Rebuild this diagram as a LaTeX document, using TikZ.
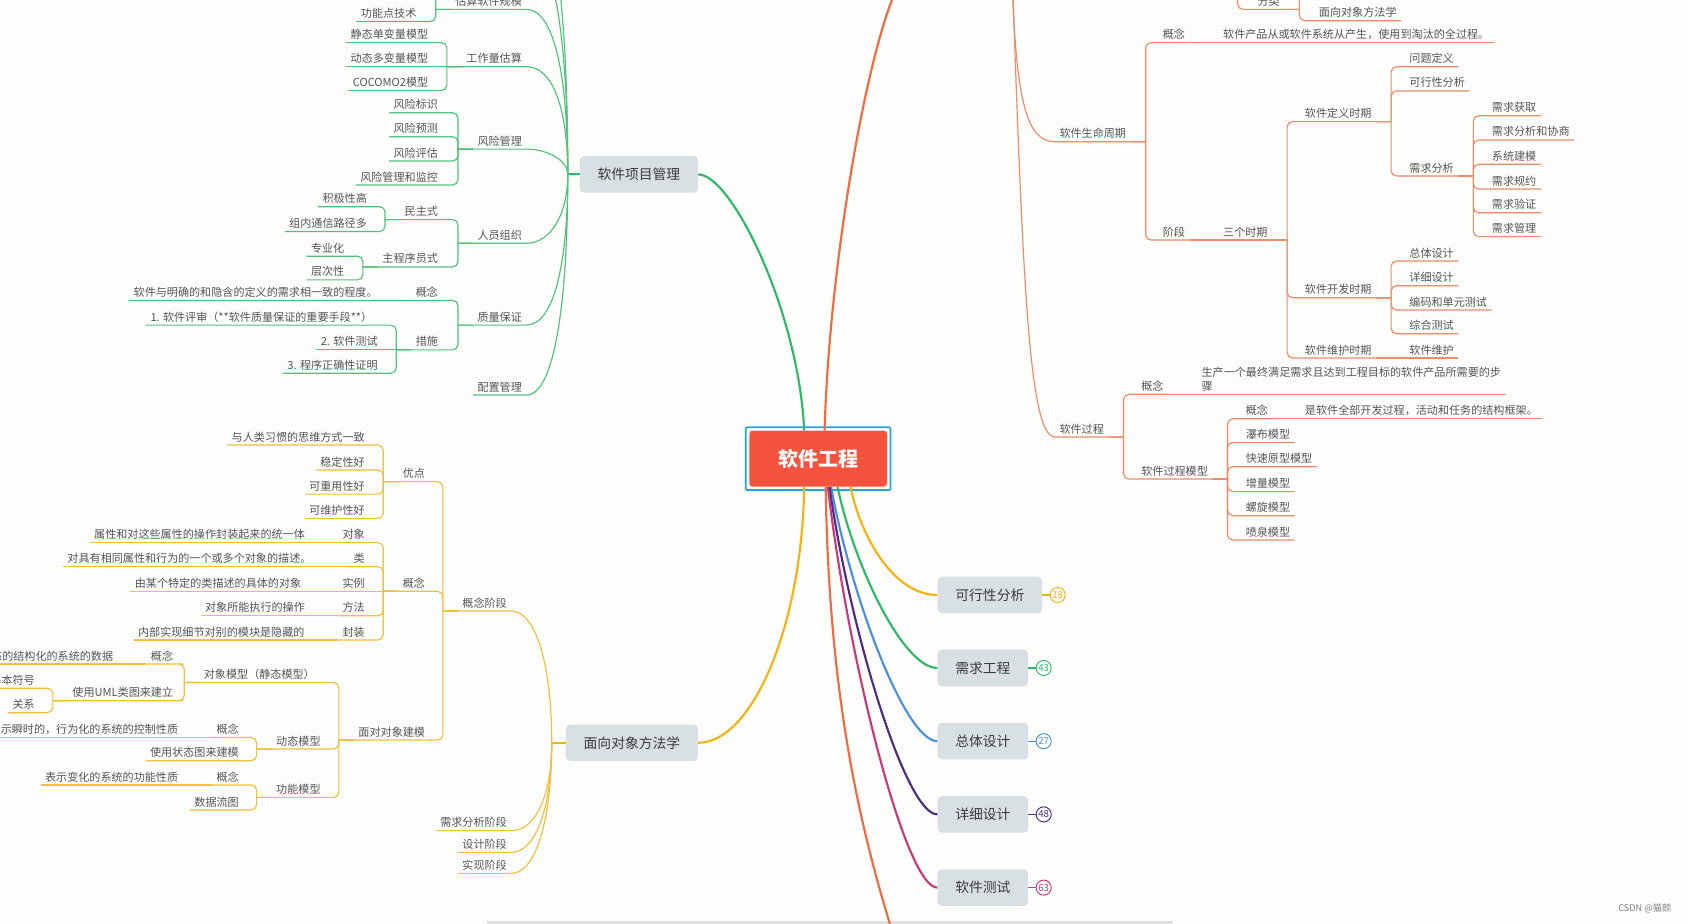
\documentclass[tikz,border=0pt]{standalone}
\usepackage{fontspec}
\setmainfont{Noto Sans CJK SC}
\usetikzlibrary{positioning,fit}

\definecolor{bgc}{HTML}{FDFDFB}
\definecolor{rootred}{HTML}{F5533D}
\definecolor{selcyan}{HTML}{1DA8E4}
\definecolor{topicgray}{HTML}{D9E0E4}
\definecolor{topictxt}{HTML}{3A3A3A}
\definecolor{labtxt}{HTML}{555555}
\definecolor{grn}{HTML}{2DB86A}
\definecolor{grnlt}{HTML}{52C27F}
\definecolor{ylw}{HTML}{F4B311}
\definecolor{ylwlt}{HTML}{F5BE3C}
\definecolor{org}{HTML}{EE6B44}
\definecolor{orglt}{HTML}{EF8B68}
\definecolor{blu}{HTML}{4A8FDB}
\definecolor{pur}{HTML}{4E2D80}
\definecolor{mag}{HTML}{C63B78}

\begin{document}
\begin{tikzpicture}[
    x=1pt, y=-1pt,
    root/.style={fill=rootred, text=white, rounded corners=3pt, minimum width=128pt, minimum height=52pt, font=\fontsize{18.6}{20}\selectfont\bfseries},
    topic/.style={fill=topicgray, text=topictxt, rounded corners=4pt, minimum height=34pt, inner xsep=16.5pt, font=\fontsize{12.8}{14}\selectfont},
    lab/.style={text=labtxt, inner xsep=4pt, inner ysep=1pt, font=\fontsize{10.3}{13}\selectfont},
    lbl/.style={lab, text height=8pt, text depth=2.5pt},
    lft/.style={lbl, anchor=south east},
    rgt/.style={lbl, anchor=south west},
    badge/.style={circle, draw=#1, text=#1, fill=white, line width=0.9pt, minimum size=14pt, inner sep=0pt, font=\fontsize{9}{10}\selectfont},
    trunk/.style={line width=2pt},
    gsub/.style={draw=grnlt, line width=1.1pt},
    ysub/.style={draw=ylwlt, line width=1.1pt},
    rsub/.style={draw=orglt, line width=1.1pt}
]
\useasboundingbox (0,0) rectangle (1568,858);
\fill[bgc] (0,0) rectangle (1568,858);
\clip (0,0) rectangle (1568,858);
\fill[black!12] (452,855.5) rectangle (1090,858);

% centre and main topics
\node[root] (ctr) at (760,426) {软件工程};
\node[draw=selcyan, line width=1.6pt, inner sep=3pt, rounded corners=1pt, fit=(ctr)] (ctrf) {};

\node[topic] (pm) at (593.5,162) {软件项目管理};
\node[topic] (oom) at (587,690) {面向对象方法学};
\node[topic] (fa) at (919.5,552.7) {可行性分析};
\node[topic] (re) at (913,620.5) {需求工程};
\node[topic] (od) at (913,688.5) {总体设计};
\node[topic] (dd) at (913,756.5) {详细设计};
\node[topic] (st) at (913,824.5) {软件测试};

\node[badge=ylw] (b18) at (982.5,552.7) {18};
\node[badge=grn] (b43) at (969.5,620.5) {43};
\node[badge=blu] (b27) at (969.5,688.5) {27};
\node[badge=pur] (b48) at (969.5,756.5) {48};
\node[badge=mag] (b63) at (969.5,824.5) {63};

\coordinate (rtop) at (835,-15);
\coordinate (rbot) at (840,900);

\draw[trunk, grn] ([xshift=-13pt]ctr.north) .. controls +(-5,-110) and +(31,0) .. (pm.east);
\draw[trunk, org] ([xshift=6pt]ctr.north) .. controls +(4,-150) and +(-30,60) .. (rtop);
\draw[trunk, ylw] ([xshift=-13pt]ctr.south) .. controls +(-2,130) and +(50,0) .. (oom.east);
\draw[trunk, ylw] ([xshift=30pt]ctr.south) .. controls +(10,48) and +(-40,0) .. (fa.west);
\draw[trunk, grn] ([xshift=18pt]ctr.south) .. controls +(15,72) and +(-32,0) .. (re.west);
\draw[trunk, blu] ([xshift=12pt]ctr.south) .. controls +(18,100) and +(-30,0) .. (od.west);
\draw[trunk, pur] ([xshift=10.5pt]ctr.south) .. controls +(18,128) and +(-30,0) .. (dd.west);
\draw[trunk, mag] ([xshift=9pt]ctr.south) .. controls +(18,156) and +(-30,0) .. (st.west);
\draw[trunk, org] ([xshift=7pt]ctr.south) .. controls +(3,200) and +(-40,-120) .. (rbot);

\draw[ylw, line width=1pt] (fa.east) -- (b18);
\draw[grn, line width=1pt] (re.east) -- (b43);
\draw[blu, line width=1pt] (od.east) -- (b27);
\draw[pur, line width=1pt] (dd.east) -- (b48);
\draw[mag, line width=1pt] (st.east) -- (b63);

% software project management
\coordinate[left=11pt of pm.west] (pmj);
\draw[trunk, grn] (pm.west) -- (pmj);
\coordinate (gx1) at (489,-50);
\coordinate (gx2) at (489,-100);
\coordinate (gs0) at (380,-25);

\node[lft] (gs) at (489,8.7) {估算软件规模};
\node[lft] (gw) at (489,62) {工作量估算};
\node[lft] (gr) at (489,138.5) {风险管理};
\node[lft] (gp) at (489,226) {人员组织};
\node[lft] (gq) at (489,302) {质量保证};
\node[lft] (gc) at (489,367) {配置管理};

\node[lft] (gs1) at (391,20) {功能点技术};
\node[lft] (gw1) at (402,39.6) {静态单变量模型};
\node[lft] (gw2) at (402,62) {动态多变量模型};
\node[lft] (gw3) at (402,84.2) {COCOMO2模型};
\node[lft] (gr1) at (411,104.7) {风险标识};
\node[lft] (gr2) at (411,127) {风险预测};
\node[lft] (gr3) at (411,149.6) {风险评估};
\node[lft] (gr4) at (411,171.9) {风险管理和监控};
\node[lft] (gp1) at (411,204) {民主式};
\node[lft] (gp2) at (411,248) {主程序员式};
\node[lft] (gp11) at (345,192) {积极性高};
\node[lft] (gp12) at (345,215) {组内通信路径多};
\node[lft] (gp21) at (324,238) {专业化};
\node[lft] (gp22) at (324,260) {层次性};
\node[lft] (gq1) at (411,279) {概念};
\node[lft] (gq11) at (355,279) {软件与明确的和隐含的定义的需求相一致的程度。};
\node[lft] (gq2) at (411,325) {措施};
\node[lft] (gq21) at (350,302) {1. 软件评审（**软件质量保证的重要手段**）};
\node[lft] (gq22) at (355,325) {2. 软件测试};
\node[lft] (gq23) at (355,346.7) {3. 程序正确性证明};

\draw[gsub] (pmj) .. controls +(0,-160) and +(25,0) .. (gx2);
\draw[gsub] (pmj) .. controls +(0,-130) and +(25,0) .. (gx1);
\foreach \n/\v/\h in {gs/-95/25, gw/-60/25, gr/-14/18, gp/38/22, gq/85/25, gc/125/25}
  \draw[gsub] (pmj) .. controls +(0,\v) and +(\h,0) .. (\n.south east) -- (\n.south west);
\draw[gsub] (gs.south west) -- ++(-14,0) [rounded corners=5pt] |- (gs0);
\foreach \p/\c in {gs/gs1, gw/gw1, gw/gw3, gr/gr1, gr/gr2, gr/gr3, gr/gr4, gp/gp1, gp/gp2, gp1/gp11, gp1/gp12, gp2/gp21, gp2/gp22, gq/gq1, gq/gq2, gq2/gq21, gq2/gq23}
  \draw[gsub] (\p.south west) -- ++(-14,0) [rounded corners=5pt] |- (\c.south east) -- (\c.south west);
\foreach \p/\c in {gw/gw2, gq1/gq11, gq2/gq22}
  \draw[gsub] (\p.south west) -- (\c.south west);

% object oriented methodology
\coordinate[left=13pt of oom.west] (oomj);
\draw[trunk, ylw] (oom.west) -- (oomj);

\node[lft] (yc) at (475,567.6) {概念阶段};
\node[lft] (yr) at (475,771.6) {需求分析阶段};
\node[lft] (yd) at (475,791.8) {设计阶段};
\node[lft] (yi) at (475,811.3) {实现阶段};

\node[lft] (ya) at (399,447.4) {优点};
\node[lft] (yb) at (399,549.3) {概念};
\node[lft] (ym) at (399,687.4) {面对对象建模};
\node[lft] (ya1) at (343,413.4) {与人类习惯的思维方式一致};
\node[lft] (ya2) at (343,436.6) {稳定性好};
\node[lft] (ya3) at (343,459) {可重用性好};
\node[lft] (ya4) at (343,481.5) {可维护性好};
\node[lft] (yb1) at (343,504) {对象};
\node[lft] (yb2) at (343,526.4) {类};
\node[lft] (yb3) at (343,549.3) {实例};
\node[lft] (yb4) at (343,572) {方法};
\node[lft] (yb5) at (343,594.5) {封装};
\node[lft] (yb11) at (287.4,504) {属性和对这些属性的操作封装起来的统一体};
\node[lft] (yb21) at (293.5,526.4) {对具有相同属性和行为的一个或多个对象的描述。};
\node[lft] (yb31) at (284,549.3) {由某个特定的类描述的具体的对象};
\node[lft] (yb41) at (287.4,572) {对象所能执行的操作};
\node[lft] (yb51) at (287,594.5) {内部实现细节对别的模块是隐藏的};
\node[lft] (ymo) at (296.6,634) {对象模型（静态模型）};
\node[lft] (ymd) at (302,695.8) {动态模型};
\node[lft] (ymf) at (302,740.7) {功能模型};
\node[lft] (ymo1) at (165,616.8) {概念};
\node[lft] (ymo11) at (109.3,616.8) {表示静态的结构化的系统的数据};
\node[lft] (ymo2) at (165,650.9) {使用UML类图来建立};
\node[lft] (ymo21) at (36.5,639.4) {基本符号};
\node[lft] (ymo22) at (36.5,662) {关系};
\node[lft] (ymd1) at (226,685) {概念};
\node[lft] (ymd11) at (169.7,685) {表示瞬时的，行为化的系统的控制性质};
\node[lft] (ymd2) at (226,706.6) {使用状态图来建模};
\node[lft] (ymf1) at (226,729.2) {概念};
\node[lft] (ymf11) at (169.7,729.2) {表示变化的系统的功能性质};
\node[lft] (ymf2) at (226,752.4) {数据流图};

\foreach \n/\v in {yc/-75, yr/50, yd/62, yi/74}
  \draw[ysub] (oomj) .. controls +(0,\v) and +(22,0) .. (\n.south east) -- (\n.south west);
\foreach \p/\c in {yc/ya, yc/yb, yc/ym, ya/ya1, ya/ya2, ya/ya3, ya/ya4, yb/yb1, yb/yb2, yb/yb4, yb/yb5, ym/ymo, ym/ymd, ym/ymf, ymo/ymo1, ymo/ymo2, ymo2/ymo21, ymo2/ymo22, ymd/ymd1, ymd/ymd2, ymf/ymf1, ymf/ymf2}
  \draw[ysub] (\p.south west) -- ++(-14,0) [rounded corners=5pt] |- (\c.south east) -- (\c.south west);
\foreach \p/\c in {yb/yb3, yb1/yb11, yb2/yb21, yb3/yb31, yb4/yb41, yb5/yb51, ymo1/ymo11, ymd1/ymd11, ymf1/ymf11}
  \draw[ysub] (\p.south west) -- (\c.south west);

% software process (upper right)
\coordinate (rsrc) at (940,-30);
\coordinate (rfsrc) at (1149.6,-40);
\coordinate (rf0) at (1240,-25);

\node[rgt] (rf) at (1164,8.7) {分类};
\node[rgt] (rf1) at (1221,19.2) {面向对象方法学};
\node[rgt] (rl) at (980,131.6) {软件生命周期};
\node[rgt] (rp) at (980,406) {软件过程};

\node[rgt] (rl1) at (1076,39.6) {概念};
\node[rgt] (rl11) at (1132,39.6) {软件产品从或软件系统从产生，使用到淘汰的全过程。};
\node[rgt] (rl2) at (1076,223) {阶段};
\node[rgt] (rl21) at (1132,223) {三个时期};
\node[rgt] (rd) at (1208,113) {软件定义时期};
\node[rgt] (rd1) at (1305,62) {问题定义};
\node[rgt] (rd2) at (1305,84.5) {可行性分析};
\node[rgt] (rd3) at (1305,163.5) {需求分析};
\node[rgt] (rq1) at (1381.7,107.5) {需求获取};
\node[rgt] (rq2) at (1381.7,130) {需求分析和协商};
\node[rgt] (rq3) at (1381.7,152.6) {系统建模};
\node[rgt] (rq4) at (1381.7,175.6) {需求规约};
\node[rgt] (rq5) at (1381.7,197.6) {需求验证};
\node[rgt] (rq6) at (1381.7,219.8) {需求管理};
\node[rgt] (rv) at (1208,276.5) {软件开发时期};
\node[rgt] (rv1) at (1305,242.5) {总体设计};
\node[rgt] (rv2) at (1305,265.4) {详细设计};
\node[rgt] (rv3) at (1305,288) {编码和单元测试};
\node[rgt] (rv4) at (1305,310) {综合测试};
\node[rgt] (rw) at (1208,332.6) {软件维护时期};
\node[rgt] (rw1) at (1305,332.6) {软件维护};

\node[rgt] (rp1) at (1056,366.3) {概念};
\node[lab, anchor=south west, align=left, inner ysep=2.5pt] (rp11) at (1112,366.3) {生产一个最终满足需求且达到工程目标的软件产品所需要的步\\骤};
\node[rgt] (rp2) at (1056,445) {软件过程模型};
\node[rgt] (rp21) at (1153,389) {概念};
\node[rgt] (rp211) at (1208,389) {是软件全部开发过程，活动和任务的结构框架。};
\node[rgt] (rp22) at (1153,411) {瀑布模型};
\node[rgt] (rp23) at (1153,433.5) {快速原型模型};
\node[rgt] (rp24) at (1153,456.7) {增量模型};
\node[rgt] (rp25) at (1153,479) {螺旋模型};
\node[rgt] (rp26) at (1153,501.6) {喷泉模型};

\draw[rsub] (rsrc) .. controls +(3,130) and +(-25,0) .. (rl.south west) -- (rl.south east);
\draw[rsub] (rsrc) .. controls +(10,280) and +(-25,0) .. (rp.south west) -- (rp.south east);
\draw[rsub, rounded corners=5pt] (rfsrc) |- (rf.south west) -- (rf.south east);
\draw[rsub] (rf.south east) -- ++(14,0) [rounded corners=5pt] |- (rf0);
\foreach \p/\c in {rf/rf1, rl/rl1, rl/rl2, rl21/rd, rl21/rv, rl21/rw, rd/rd1, rd/rd2, rd/rd3, rd3/rq1, rd3/rq2, rd3/rq3, rd3/rq4, rd3/rq5, rd3/rq6, rv/rv1, rv/rv2, rv/rv3, rv/rv4, rp/rp1, rp/rp2, rp2/rp21, rp2/rp22, rp2/rp23, rp2/rp24, rp2/rp25, rp2/rp26}
  \draw[rsub] (\p.south east) -- ++(14,0) [rounded corners=5pt] |- (\c.south west) -- (\c.south east);
\foreach \p/\c in {rl1/rl11, rl2/rl21, rw/rw1, rp1/rp11, rp21/rp211}
  \draw[rsub] (\p.south east) -- (\c.south east);

\node[text=black!50, font=\fontsize{8.5}{10}\selectfont, anchor=east] (wm) at (1556,844) {CSDN @猫颜};
\end{tikzpicture}
\end{document}
